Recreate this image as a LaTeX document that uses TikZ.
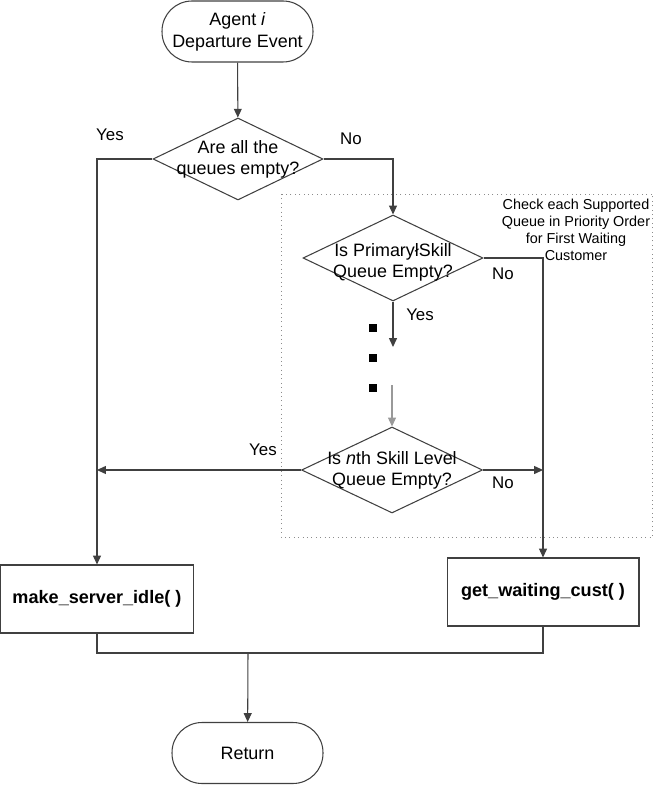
\documentclass[tikz,border=0pt]{standalone}
\usepackage{fontspec}
\setmainfont{Liberation Sans}
\usetikzlibrary{shapes.geometric,arrows.meta}
\tikzset{
  >={Triangle[length=5pt,width=4.5pt]},
  flow/.style={line width=0.6pt,draw=black!75},
  terminal/.style={draw=black!75,line width=0.6pt,rounded corners=0.6cm,
    minimum width=3.02cm,minimum height=1.22cm,align=center,
    font=\fontsize{10.2}{12.5}\selectfont},
  decision/.style={diamond,draw=black!75,line width=0.6pt,inner sep=0pt},
  dectext/.style={align=center,inner sep=0pt,font=\fontsize{10.2}{12}\selectfont},
  process/.style={draw=black!75,line width=0.6pt,minimum height=1.36cm,
    font=\fontsize{10.3}{12}\selectfont\bfseries},
  answer/.style={font=\fontsize{9.6}{11}\selectfont},
  dot/.style={fill=black,minimum size=0.16cm,inner sep=0pt}
}
\begin{document}
\begin{tikzpicture}[x=0.02cm,y=-0.02cm]
\useasboundingbox (0,0) rectangle (654,786);
% start and first test
\node[terminal] (start) at (237.5,31.5) {Agent \textit{i}\\Departure Event};
\node[decision,minimum width=3.4cm,minimum height=1.64cm] (q1) at (238,159) {};
\node[dectext] (q1txt) at (q1) {Are all the\\queues empty?};
%
% region of the skill queues
\draw[dotted,black!45,line width=0.5pt] (281,194) rectangle (652.5,537);
\node[align=center,font=\fontsize{8.2}{9.6}\selectfont] (note) at (576,230)
  {Check each Supported\\Queue in Priority Order\\for First Waiting\\Customer};
\node[decision,minimum width=3.6cm,minimum height=1.72cm] (q2) at (393,258) {};
\node[dectext] (q2txt) at (393,262) {Is PrimaryłSkill\\Queue Empty?};
\node[dot] (d1) at (373,328) {};
\node[dot] (d2) at (373,358) {};
\node[dot] (d3) at (373,388) {};
\coordinate (gap1) at (393,347);
\coordinate (gap2) at (392,385);
\node[decision,minimum width=3.62cm,minimum height=1.72cm] (q3) at (392,470) {};
\node[dectext] (q3txt) at (q3) {Is \textit{n}th Skill Level\\Queue Empty?};
%
% actions and end
\node[process,minimum width=3.87cm] (idle) at (97,599) {make\_server\_idle( )};
\node[process,minimum width=3.84cm] (get) at (543,592) {get\_waiting\_cust( )};
\coordinate (join) at (248,653);
\node[terminal] (ret) at (247.5,753) {Return};
%
% connectors
\draw[flow,->] (start) -- (q1);
\draw[flow,->] (q1.west) -| (idle.north);
\draw[flow,->] (q1.east) -| (q2.north);
\draw[flow,->] (q2.south) -- (gap1);
\draw[flow,draw=black!40,->] (gap2) -- (q3.north);
\draw[flow,->] (q2.east) -| (get.north);
\draw[flow,->] (q3.west) -- (q3.west -| idle.north);
\draw[flow,->] (q3.east) -- (q3.east -| get.north);
\draw[flow] (idle.south) |- (join) -| (get.south);
\draw[flow,->] (join) -- (ret);
%
\node[answer] (yes1) at (110,135) {Yes};
\node[answer] (no1) at (351,139) {No};
\node[answer] (no2) at (503,274) {No};
\node[answer] (yes2) at (420,315) {Yes};
\node[answer] (yes3) at (263,450) {Yes};
\node[answer] (no3) at (503,483) {No};
\end{tikzpicture}
\end{document}
